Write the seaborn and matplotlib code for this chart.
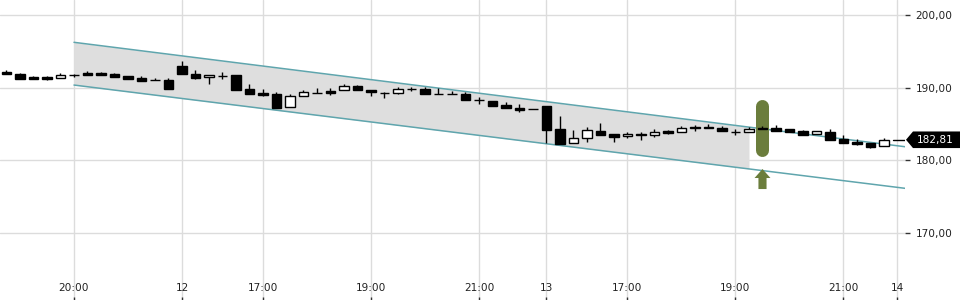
import numpy as np
import pandas as pd
import matplotlib
matplotlib.use("Agg")
import matplotlib.pyplot as plt
import seaborn as sns
from matplotlib.patches import Polygon
from matplotlib.transforms import blended_transform_factory

# ---------------- data ----------------
opens = [192.19, 191.87, 191.46, 191.46, 191.28, 191.69, 192.00, 192.00, 191.87, 191.59,
         191.36, 191.04, 191.04, 192.97, 191.87, 191.41, 191.64, 191.73, 189.80, 189.25,
         189.11, 187.28, 188.80, 189.21, 189.53, 189.62, 190.17, 189.71, 189.21, 189.25,
         189.80, 189.84, 189.11, 189.11, 189.11, 188.29, 188.11, 187.60, 187.19, 187.05,
         187.46, 184.29, 182.32, 183.01, 184.02, 183.60, 183.28, 183.60, 183.51, 184.02,
         183.88, 184.61, 184.61, 184.47, 183.92, 183.84, 184.47, 184.43, 184.29, 184.02,
         183.64, 183.88, 182.95, 182.50, 182.36, 181.91]
highs = [192.38, 192.00, 191.55, 191.59, 192.00, 191.91, 192.33, 192.19, 192.05, 191.59,
         191.64, 191.36, 191.36, 193.66, 192.42, 191.69, 192.10, 191.73, 190.49, 189.80,
         189.39, 189.11, 189.71, 189.94, 189.94, 190.45, 190.35, 189.71, 189.43, 190.08,
         190.08, 190.08, 189.98, 189.57, 189.39, 188.66, 188.11, 188.01, 187.69, 187.05,
         187.46, 186.08, 184.15, 184.61, 185.12, 183.60, 183.92, 183.92, 184.29, 184.20,
         184.66, 184.84, 184.98, 184.75, 184.25, 184.57, 184.70, 184.84, 184.29, 184.20,
         184.02, 184.33, 183.46, 182.91, 182.36, 183.09]
lows = [191.83, 191.22, 191.22, 191.08, 191.28, 191.46, 191.77, 191.77, 191.50, 191.22,
        190.95, 191.04, 189.84, 191.83, 191.22, 190.53, 191.22, 189.62, 189.16, 188.80,
        187.23, 187.28, 188.80, 189.21, 188.98, 189.62, 189.62, 188.88, 188.60, 189.11,
        189.57, 189.07, 189.11, 189.11, 188.25, 187.69, 187.50, 187.14, 186.59, 187.05,
        182.36, 182.27, 182.32, 182.46, 183.51, 182.46, 183.01, 182.82, 183.19, 183.64,
        183.88, 184.06, 184.43, 183.97, 183.46, 183.84, 184.25, 184.06, 183.84, 183.51,
        183.64, 182.82, 182.40, 182.13, 181.71, 181.91]
closes = [191.83, 191.22, 191.22, 191.22, 191.69, 191.69, 191.77, 191.77, 191.50, 191.22,
          190.95, 191.04, 189.84, 191.87, 191.36, 191.69, 191.64, 189.71, 189.16, 188.98,
          187.23, 188.80, 189.35, 189.21, 189.30, 190.17, 189.62, 189.35, 189.21, 189.84,
          189.80, 189.07, 189.11, 189.11, 188.25, 188.29, 187.50, 187.14, 186.87, 187.05,
          184.19, 182.27, 183.05, 184.11, 183.51, 183.23, 183.64, 183.42, 183.88, 183.78,
          184.47, 184.39, 184.43, 183.97, 183.92, 184.33, 184.25, 184.06, 183.84, 183.51,
          184.02, 182.82, 182.40, 182.27, 181.85, 182.81]
last_price = 182.81

tick_positions = [5, 13, 19, 27, 35, 40, 46, 54, 62, 66]
tick_labels = ["20:00", "12", "17:00", "19:00", "21:00", "13", "17:00", "19:00", "21:00", "14"]
y_ticks = [170, 180, 190, 200]

channel_x = [5, 66.56]
channel_upper = [196.24, 181.85]
channel_lower = [190.35, 176.12]
fill_end = 55

signal_index = 56
signal_top = 188.38
signal_bottom = 180.47
arrow_tip = 178.78
arrow_bottom = 176.02

# ---------------- style ----------------
sns.set_theme(style="white")
plt.rcParams["font.family"] = ["DejaVu Sans"]

W, H, DPI = 960, 300, 100
fig = plt.figure(figsize=(W / DPI, H / DPI), dpi=DPI)
ax_right_px = 905
ax = fig.add_axes([0, 0, ax_right_px / W, 1])
ax.set_facecolor("white")

xmin, xmax = -0.481, 66.556
ymin, ymax = 160.73, 202.07
ax.set_xlim(xmin, xmax)
ax.set_ylim(ymin, ymax)

grid_c = "#dcdcdc"
for p in tick_positions:
    ax.axvline(p, color=grid_c, lw=1, zorder=0)
for yv in y_ticks:
    ax.axhline(yv, color=grid_c, lw=1, zorder=0)

# channel fill and lines
cx = np.array(channel_x)
up = np.array(channel_upper)
lo = np.array(channel_lower)
fx = np.linspace(channel_x[0], fill_end, 50)
ax.fill_between(fx, np.interp(fx, cx, up), np.interp(fx, cx, lo),
                color="#dedede", lw=0, zorder=1)
chan_df = pd.DataFrame({"x": list(cx) * 2, "y": list(up) + list(lo),
                        "line": ["upper"] * 2 + ["lower"] * 2})
sns.lineplot(data=chan_df, x="x", y="y", units="line", estimator=None,
             color="#5fa5ad", lw=1.1, ax=ax, zorder=2, legend=False)

# signal marker
green = "#6b7d3c"
cap = 6.5 / 7.257  # half of line width in price units
ax.plot([signal_index, signal_index], [signal_bottom + cap, signal_top - cap],
        color=green, lw=13 * 72 / DPI, solid_capstyle="round", zorder=3)
hw, sw = 0.59, 0.30
head_base = arrow_tip - 9 / 7.257
arrow = Polygon([[signal_index, arrow_tip], [signal_index + hw, head_base],
                 [signal_index + sw, head_base], [signal_index + sw, arrow_bottom],
                 [signal_index - sw, arrow_bottom], [signal_index - sw, head_base],
                 [signal_index - hw, head_base]], closed=True, color=green, lw=0, zorder=3)
ax.add_patch(arrow)

# candles
x = np.arange(len(opens))
o = np.array(opens); c = np.array(closes); h = np.array(highs); l = np.array(lows)
ax.vlines(x, l, h, color="black", lw=1, zorder=4)
bottoms = np.minimum(o, c)
heights = np.maximum(np.abs(c - o), 0.02)
colors = ["white" if cc > oo else "black" for oo, cc in zip(o, c)]
ax.bar(x, heights, bottom=bottoms, width=0.72, color=colors, edgecolor="black",
       lw=1, zorder=5)

# last price line
ax.plot([len(opens) - 1 + 0.65, xmax], [last_price, last_price], color="black", lw=1, zorder=5)

# axes styling
for s in ax.spines.values():
    s.set_visible(False)
ax.set_xticks(tick_positions)
ax.set_xticklabels(tick_labels)
ax.set_yticks(y_ticks)
ax.set_yticklabels([f"{v:.2f}".replace(".", ",") for v in y_ticks])
ax.yaxis.tick_right()
ax.tick_params(axis="y", direction="out", length=3.6, width=1, color="#333333",
               pad=4, labelsize=7.6, labelcolor="#222222", right=True, left=False)
ax.tick_params(axis="x", direction="in", length=2.4, width=1, color="#333333",
               pad=-12.5, labelsize=7.6, labelcolor="#222222", bottom=True)
ax.set_xlabel(""); ax.set_ylabel("")

# price tag
tr = blended_transform_factory(fig.transFigure, ax.transData)
half = 8.3 / 7.257
tag = Polygon([[906 / W, last_price], [913 / W, last_price + half], [1.0, last_price + half],
               [1.0, last_price - half], [913 / W, last_price - half]],
              closed=True, color="black", lw=0, transform=tr, clip_on=False)
fig.patches.append(tag)
fig.text(935 / W, last_price, f"{last_price:.2f}".replace(".", ","), color="white",
         fontsize=7.6, ha="center", va="center", transform=tr, zorder=10)

fig.savefig("out.png", dpi=DPI)
